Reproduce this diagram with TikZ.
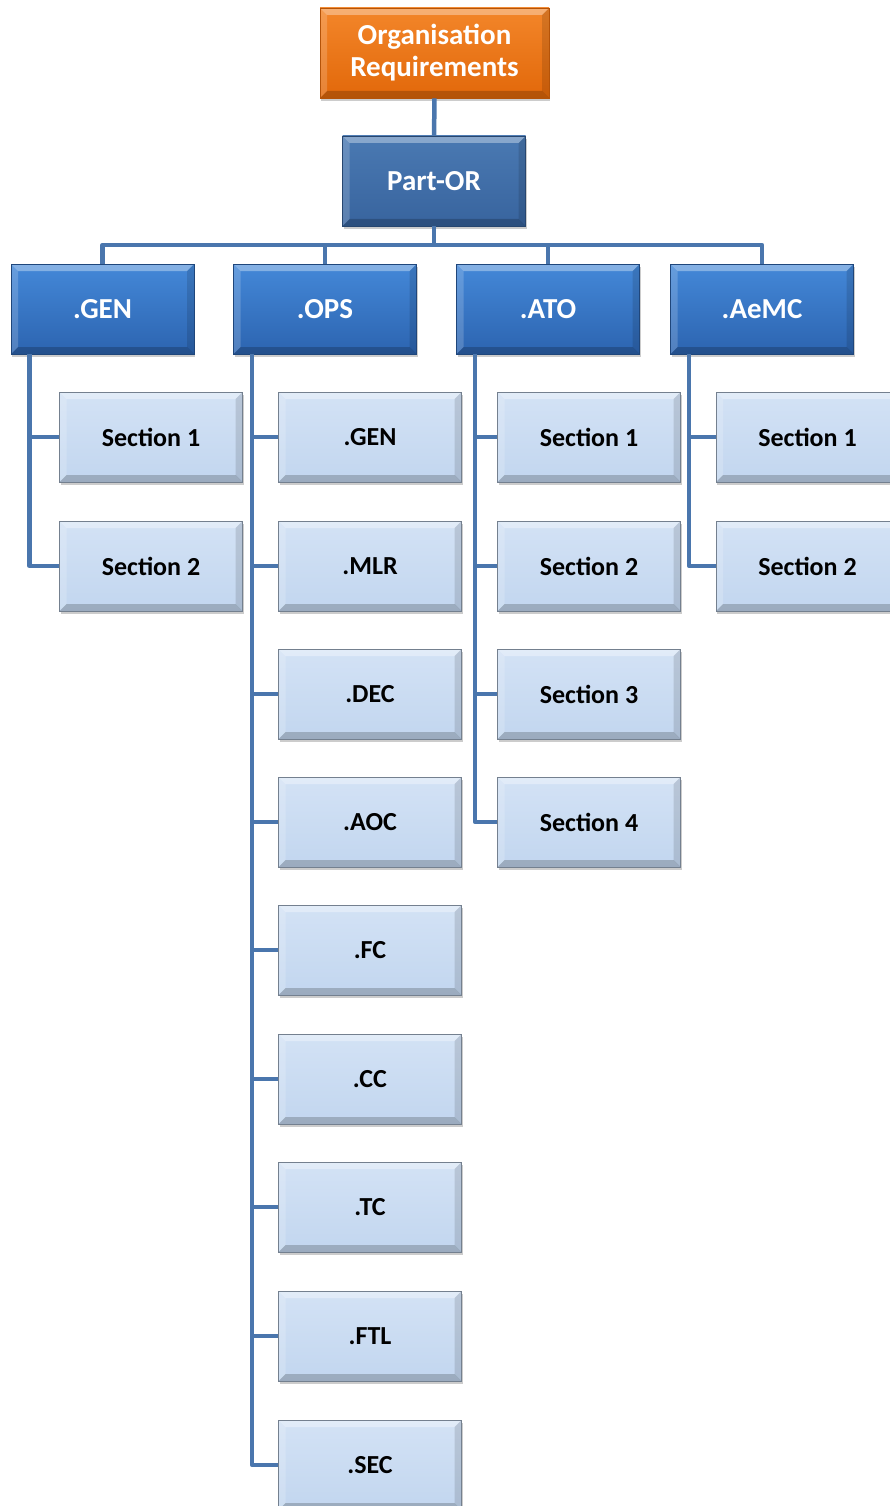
\documentclass[tikz,border=0pt]{standalone}
\usepackage{fontspec}
\setmainfont{Carlito}
\usetikzlibrary{shadows}
\definecolor{orgtop}{HTML}{F3862A}
\definecolor{orgbot}{HTML}{E2680A}
\definecolor{parttop}{HTML}{4A79B2}
\definecolor{partbot}{HTML}{38649E}
\definecolor{branchtop}{HTML}{4488D8}
\definecolor{branchbot}{HTML}{2C64B0}
\definecolor{secttop}{HTML}{D3E2F5}
\definecolor{sectbot}{HTML}{C2D6EF}
\definecolor{linkcol}{HTML}{4A76AD}
\newcommand{\bevelbox}{%
  \fill[white, opacity=.35] (path picture bounding box.north west) -- (path picture bounding box.north east)
    -- ([xshift=-7pt,yshift=-7pt]path picture bounding box.north east) -- ([xshift=7pt,yshift=-7pt]path picture bounding box.north west) -- cycle;
  \fill[white, opacity=.18] (path picture bounding box.north west) -- (path picture bounding box.south west)
    -- ([xshift=7pt,yshift=7pt]path picture bounding box.south west) -- ([xshift=7pt,yshift=-7pt]path picture bounding box.north west) -- cycle;
  \fill[black, opacity=.2] (path picture bounding box.south west) -- (path picture bounding box.south east)
    -- ([xshift=-7pt,yshift=7pt]path picture bounding box.south east) -- ([xshift=7pt,yshift=7pt]path picture bounding box.south west) -- cycle;
  \fill[black, opacity=.12] (path picture bounding box.north east) -- (path picture bounding box.south east)
    -- ([xshift=-7pt,yshift=7pt]path picture bounding box.south east) -- ([xshift=-7pt,yshift=-7pt]path picture bounding box.north east) -- cycle;
}
\begin{document}
\begin{tikzpicture}[x=1pt, y=-1pt,
    box/.style = {minimum width=183pt, minimum height=90pt, inner sep=0pt, line width=.6pt,
      font=\bfseries\fontsize{29}{32}\selectfont, align=center,
      drop shadow={shadow xshift=1pt, shadow yshift=-3pt, opacity=.4}, path picture=\bevelbox},
    orgbox/.style = {box, minimum width=229pt, top color=orgtop, bottom color=orgbot, draw=orgbot!80!black, text=white},
    partbox/.style = {box, top color=parttop, bottom color=partbot, draw=partbot!70!black, text=white},
    branch/.style = {box, top color=branchtop, bottom color=branchbot, draw=branchbot!70!black, text=white},
    sect/.style = {box, top color=secttop, bottom color=sectbot, draw=sectbot!60!black, text=black,
      font=\bfseries\fontsize{26}{29}\selectfont},
    link/.style = {draw=linkcol, line width=4.5pt, line join=round}]
    \useasboundingbox (0,0) rectangle (889,1506);
    % top of the tree
    \node (org) at (434.5,53) [orgbox]{Organisation\\Requirements};
    \node (partor) at (434,181) [partbox]{Part-OR};
    \coordinate (bar) at (434,245);
    % subparts
    \node (gen) at (102.5,309) [branch]{.GEN};
    \node (ops) at (325,309) [branch]{.OPS};
    \node (ato) at (548,309) [branch]{.ATO};
    \node (aemc) at (762,309) [branch]{.AeMC};
    % .GEN sections
    \node (gen1) at (151,437) [sect]{Section 1};
    \node (gen2) at (151,566) [sect]{Section 2};
    % .OPS subparts
    \node (ops1) at (370,437) [sect]{.GEN};
    \node (ops2) at (370,566) [sect]{.MLR};
    \node (ops3) at (370,694) [sect]{.DEC};
    \node (ops4) at (370,822) [sect]{.AOC};
    \node (ops5) at (370,950) [sect]{.FC};
    \node (ops6) at (370,1079) [sect]{.CC};
    \node (ops7) at (370,1207) [sect]{.TC};
    \node (ops8) at (370,1336) [sect]{.FTL};
    \node (ops9) at (370,1465) [sect]{.SEC};
    % .ATO sections
    \node (ato1) at (589,437) [sect]{Section 1};
    \node (ato2) at (589,566) [sect]{Section 2};
    \node (ato3) at (589,694) [sect]{Section 3};
    \node (ato4) at (589,822) [sect]{Section 4};
    % .AeMC sections
    \node (aemc1) at (807.5,437) [sect]{Section 1};
    \node (aemc2) at (807.5,566) [sect]{Section 2};
    % connectors
    \draw[link] (org) -- (partor);
    \draw[link] (partor) -- (bar);
    \draw[link] (bar) -| (gen.north);
    \draw[link] (bar) -| (ops.north);
    \draw[link] (bar) -| (ato.north);
    \draw[link] (bar) -| (aemc.north);
    \draw[link] ([xshift=19pt]gen.south west) |- (gen1.west);
    \draw[link] ([xshift=19pt]gen.south west) |- (gen2.west);
    \draw[link] ([xshift=19pt]ops.south west) |- (ops1.west);
    \draw[link] ([xshift=19pt]ops.south west) |- (ops2.west);
    \draw[link] ([xshift=19pt]ops.south west) |- (ops3.west);
    \draw[link] ([xshift=19pt]ops.south west) |- (ops4.west);
    \draw[link] ([xshift=19pt]ops.south west) |- (ops5.west);
    \draw[link] ([xshift=19pt]ops.south west) |- (ops6.west);
    \draw[link] ([xshift=19pt]ops.south west) |- (ops7.west);
    \draw[link] ([xshift=19pt]ops.south west) |- (ops8.west);
    \draw[link] ([xshift=19pt]ops.south west) |- (ops9.west);
    \draw[link] ([xshift=19pt]ato.south west) |- (ato1.west);
    \draw[link] ([xshift=19pt]ato.south west) |- (ato2.west);
    \draw[link] ([xshift=19pt]ato.south west) |- (ato3.west);
    \draw[link] ([xshift=19pt]ato.south west) |- (ato4.west);
    \draw[link] ([xshift=19pt]aemc.south west) |- (aemc1.west);
    \draw[link] ([xshift=19pt]aemc.south west) |- (aemc2.west);
\end{tikzpicture}
\end{document}
